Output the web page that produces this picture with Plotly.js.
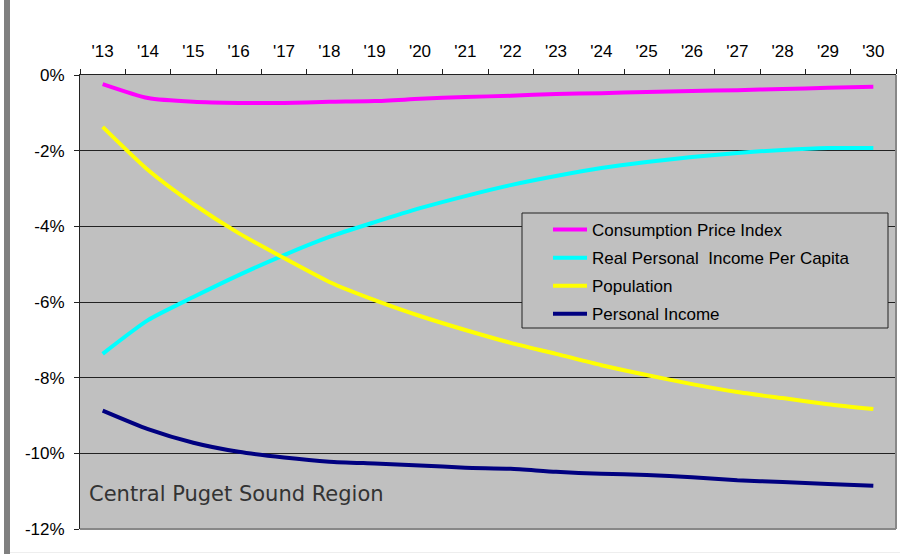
<!DOCTYPE html>
<html>
<head>
<meta charset="utf-8">
<script src="https://cdn.plot.ly/plotly-3.0.1.min.js"></script>
<style>
html,body{margin:0;padding:0;background:#fff;}
#chart{width:900px;height:554px;}
</style>
</head>
<body>
<div id="chart"></div>
<script>
const years = ["'13","'14","'15","'16","'17","'18","'19","'20","'21","'22","'23","'24","'25","'26","'27","'28","'29","'30"];

const cpi = [-0.24,-0.61,-0.71,-0.74,-0.74,-0.71,-0.69,-0.63,-0.58,-0.55,-0.50,-0.48,-0.45,-0.42,-0.40,-0.37,-0.34,-0.31];
const realIncomePerCapita = [-7.37,-6.48,-5.87,-5.29,-4.76,-4.28,-3.89,-3.52,-3.20,-2.91,-2.67,-2.46,-2.30,-2.17,-2.06,-1.98,-1.93,-1.93];
const population = [-1.37,-2.51,-3.41,-4.18,-4.84,-5.47,-5.95,-6.37,-6.74,-7.08,-7.37,-7.67,-7.93,-8.17,-8.38,-8.54,-8.70,-8.83];
const personalIncome = [-8.87,-9.36,-9.72,-9.96,-10.11,-10.22,-10.27,-10.32,-10.38,-10.41,-10.49,-10.54,-10.57,-10.63,-10.71,-10.76,-10.81,-10.86];

const seriesNames = ["Consumption Price Index","Real Personal  Income Per Capita","Population","Personal Income"];
const seriesColors = ["#FF00FF","#00FFFF","#FFFF00","#000080"];
const yTickVals = [0,-2,-4,-6,-8,-10,-12];
const yTickText = ["0%","-2%","-4%","-6%","-8%","-10%","-12%"];
const regionLabel = "Central Puget Sound Region";

const allSeries = [cpi, realIncomePerCapita, population, personalIncome];
const traces = allSeries.map((vals, i) => ({
  x: years, y: vals, type: 'scatter', mode: 'lines',
  name: seriesNames[i], legendgroup: 'g' + i,
  line: {color: seriesColors[i], width: 4, shape: 'spline', smoothing: 0.6}
}));

const W = 900, H = 554, L = 80, R = 4, T = 75, B = 25;
const pw = W - L - R, ph = H - T - B;
const px = v => (v - L) / pw;
const py = v => (H - B - v) / ph;
const FONT = 'Liberation Sans, Arial, sans-serif';

const layout = {
  width: W, height: H,
  margin: {l: L, r: R, t: T, b: B, pad: 0},
  paper_bgcolor: '#ffffff',
  plot_bgcolor: '#C0C0C0',
  font: {family: FONT, size: 17, color: '#000'},
  showlegend: true,
  legend: {
    x: px(548), y: py(212), xanchor: 'left', yanchor: 'top',
    bgcolor: 'rgba(0,0,0,0)', borderwidth: 0,
    font: {family: FONT, size: 17, color: '#000'},
    tracegroupgap: 3, itemwidth: 34, traceorder: 'grouped'
  },
  xaxis: {
    type: 'category', side: 'top', range: [-0.5, 17.5],
    tickson: 'boundaries', ticks: 'outside', ticklen: 5, tickcolor: '#222',
    showline: true, linecolor: '#222', linewidth: 1,
    showgrid: false, zeroline: false, fixedrange: true,
    ticklabelstandoff: 10,
    tickfont: {family: FONT, size: 17, color: '#000'}
  },
  yaxis: {
    range: [-12, 0], tickvals: yTickVals, ticktext: yTickText,
    ticks: 'outside', ticklen: 5, tickcolor: '#222',
    showline: true, linecolor: '#222', linewidth: 1,
    showgrid: true, gridcolor: '#222', gridwidth: 1,
    zeroline: false, fixedrange: true,
    ticklabelstandoff: 6,
    tickfont: {family: FONT, size: 17, color: '#000'}
  },
  shapes: [
    {type: 'rect', xref: 'paper', yref: 'paper', x0: px(522), x1: px(888), y0: py(328), y1: py(213),
     fillcolor: '#C0C0C0', line: {color: '#222', width: 1}, layer: 'above'},
    {type: 'line', xref: 'paper', yref: 'paper', x0: 1, x1: 1, y0: 0, y1: 1, line: {color: '#888', width: 2}, layer: 'above'},
    {type: 'line', xref: 'paper', yref: 'paper', x0: 0, x1: 1, y0: 0, y1: 0, line: {color: '#888', width: 2}, layer: 'above'},
    {type: 'rect', xref: 'paper', yref: 'paper', x0: px(4), x1: px(10), y0: py(554), y1: py(0),
     fillcolor: '#808080', line: {width: 0}, layer: 'above'},
    {type: 'line', xref: 'paper', yref: 'paper', x0: px(10), x1: px(900), y0: py(552.5), y1: py(552.5),
     line: {color: '#eeeeee', width: 1}, layer: 'above'}
  ],
  annotations: [
    {text: regionLabel, xref: 'paper', yref: 'paper', x: px(87), y: py(494),
     xanchor: 'left', yanchor: 'middle', showarrow: false,
     font: {family: 'DejaVu Sans, sans-serif', size: 21, color: '#333'}}
  ]
};

Plotly.newPlot('chart', traces, layout, {displayModeBar: false, staticPlot: true});
</script>
</body>
</html>
